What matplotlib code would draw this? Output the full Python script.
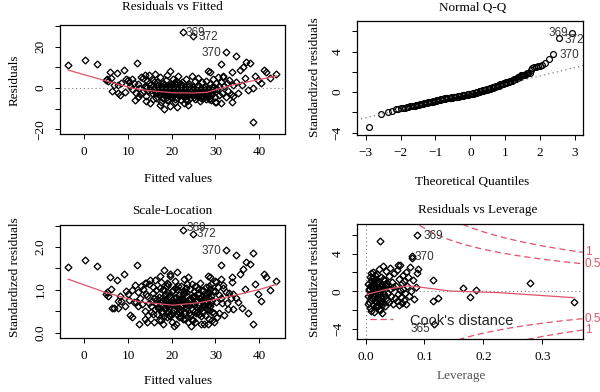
import numpy as np
import matplotlib
matplotlib.use('Agg')
import matplotlib.pyplot as plt
from statistics import NormalDist

plt.rcParams['font.family'] = ['Liberation Serif', 'DejaVu Serif']

# fitted values and raw residuals of the model
fitted = [-3.7, 0.15, 3.0, 5.0, 5.2, 5.4, 5.9, 6.0, 6.4, 6.8,
          7.4, 7.6, 7.8, 8.2, 8.5, 9.1, 9.3, 9.6, 10.1, 10.2,
          10.5, 10.8, 11.0, 11.3, 11.6, 11.8, 12.0, 12.2, 12.3, 12.5,
          12.7, 12.9, 13.9,
          22.6, 24.8, 32.5, 34.6, 31.2, 37.0, 37.9, 35.6, 36.2, 41.1,
          41.5, 43.8, 42.4, 39.8, 38.6, 38.6, 33.7, 30.2, 28.7, 31.8,
          33.7, 34.8, 37.5, 36.1, 35.2, 36.8, 39.0, 40.5, 34.0, 31.2,
          13.2, 13.5, 13.8, 14.1, 14.3, 14.6, 14.9, 14.2, 13.9, 14.7,
          15.1, 15.3, 15.5, 15.8, 16.0, 16.2, 16.4, 16.6, 16.9, 15.6, 16.7, 15.9,
          17.1, 17.3, 17.4, 17.6, 17.8, 17.9, 18.1, 18.2, 18.3, 18.5,
          18.6, 18.8, 18.9, 19.0, 17.5, 18.4, 19.1, 17.7,
          19.2, 19.3, 19.5, 19.6, 19.7, 19.9, 20.0, 20.2, 20.3, 20.4,
          20.6, 20.7, 20.9, 21.0, 19.4, 20.1, 20.8, 21.0,
          21.2, 21.3, 21.5, 21.6, 21.8, 22.0, 22.1, 22.3, 22.4, 22.6,
          22.8, 22.9, 21.4, 22.2, 22.7,
          23.1, 23.2, 23.4, 23.5, 23.7, 23.9, 24.0, 24.2, 24.4, 24.6, 24.7, 24.9, 23.8,
          25.1, 25.3, 25.4, 25.6, 25.8, 26.0, 26.1, 26.3, 26.5, 26.6, 26.8, 27.0, 25.9, 26.9,
          27.2, 27.3, 27.5, 27.6, 27.8, 27.9, 28.0, 28.2, 28.3, 28.5,
          28.6, 28.8, 28.9, 29.0, 27.4, 28.4, 29.1,
          29.3, 29.5, 29.7, 29.9, 30.1, 30.3, 30.5, 30.7, 30.9, 30.0,
          31.2, 31.5, 31.8, 32.0, 32.3, 32.6, 32.9, 33.2, 33.6, 33.9,
          17.2, 17.9, 18.7, 19.3, 19.8, 20.5, 21.1, 21.7, 22.5, 23.3,
          23.6, 24.1, 24.8, 25.2, 25.7, 26.2, 26.7, 27.1, 27.7, 28.1,
          28.7, 18.0, 19.0, 20.0, 21.9, 22.9, 24.5, 26.4, 27.9, 28.6,
          14.4, 15.2, 15.7, 16.3, 16.8, 17.0, 17.6, 18.2, 18.6, 18.9,
          19.2, 19.6, 19.9, 20.3, 20.6, 21.0, 21.3, 21.6, 21.9, 22.2,
          22.5, 22.8, 23.0, 23.3, 23.6, 23.9, 24.2, 24.5, 24.8, 25.0,
          25.3, 25.6, 25.9, 26.2, 26.5, 26.8, 27.1, 27.4, 27.7, 28.0,
          28.3, 28.6, 28.9, 29.2, 29.6, 16.1, 18.0, 20.1, 24.3, 26.0]
resid = [11.1, 13.5, 11.5, 3.9, 4.3, 3.5, 7.9, 5.0, -1.5, 1.5,
         7.1, -2.5, 1.5, -3.4, 2.6, 8.7, -1.8, 4.4, 3.9, 2.8,
         0.8, 4.6, -0.6, 2.4, -5.8, -2.4, 11.9, 1.8, -4.2, 0.2,
         -3.0, 5.5, 6.3,
         27.3, 25.2, 17.6, 15.5, 11.6, 12.7, 12.2, 8.7, 10.3, 8.7,
         7.9, 6.8, 4.7, 3.9, -0.2, -16.3, -6.6, -6.6, 7.9, 5.2,
         7.9, 3.1, -1.0, 1.5, -2.4, 4.8, 6.0, 2.5, -3.8, -7.4,
         -2.1, 4.8, 1.2, -6.3, 3.5, -0.8, 6.1, -3.9, 0.5, 2.2,
         -7.2, 1.8, -2.5, 4.1, -0.3, 7.0, -4.6, 2.9, -1.7, -5.4, 0.9, 3.0,
         -3.3, 5.2, -8.1, 0.4, -1.2, 2.6, -5.0, -10.1, 1.5, -2.8,
         3.9, -0.6, -4.2, 6.4, -6.6, -3.7, -1.9, 1.0,
         -6.0, 0.8, 8.3, -2.4, -8.9, 2.1, -4.4, -1.0, 4.6, -3.1,
         0.1, -6.8, 1.9, -2.0, -1.5, -0.3, -5.2, 3.3,
         -9.4, -0.9, 5.7, -3.6, -1.4, 1.3, -5.7, -2.6, 3.0, -0.5,
         -7.3, -2.2, 2.4, 0.6, -4.0,
         -1.1, 4.2, -3.4, -6.2, 0.3, -2.7, 2.0, -4.8, -1.6, 6.0, -0.4, -3.0, -8.0,
         -2.3, 3.4, -5.5, -1.0, 1.1, -3.8, 4.9, -2.0, -6.4, 0.2, -1.5, 2.7, -4.1, -3.2,
         -4.6, -1.8, 0.8, -3.0, -5.3, 3.6, -2.4, -0.2, 8.1, -4.0,
         -1.3, 1.8, -3.4, -6.0, -2.9, -2.0, 0.4,
         -2.8, 4.5, -1.0, -6.9, 2.4, -0.6, 5.3, -3.6, 1.0, -4.5,
         3.0, -2.2, 5.9, 0.8, -4.2, 2.2, -1.4, 4.0, -3.0, 1.4,
         -2.0, -4.6, -2.2, -3.4, 0.9, -1.9, -4.9, -2.9, -3.8, -5.1,
         -2.0, -0.8, -3.5, -4.4, -2.7, -0.9, -4.7, -1.1, -2.2, -3.9,
         -4.9, -0.2, -5.6, -2.7, -1.0, -4.5, -2.1, -3.1, -1.6, -5.5,
         0.3, -1.1, 0.9, -2.3, 1.6, -0.4, -2.9, 0.7, -1.6, -2.5,
         1.2, -0.7, -3.1, -1.3, 2.3, 0.2, -2.2, -0.6, -1.8, 1.8,
         -2.8, -1.0, 0.5, -2.4, -1.5, 1.0, -3.0, -0.9, 0.4, -2.0,
         -0.3, -2.6, -1.2, 0.9, -2.9, -0.7, -1.9, 0.2, -2.6, -1.4,
         -3.2, -0.5, -2.3, -1.1, 0.3, -1.4, -1.8, -2.1, -0.1, -1.6]
resid_se = 4.7

# lowess curves as drawn
smooth_fit_x = [-3.7, 5.1, 11.2, 15.0, 20.3, 25.0, 28.0, 31.0, 34.0, 39.4, 44.0]
smooth_fit_y = [8.7, 3.4, -0.2, -1.3, -2.3, -2.4, -2.1, -0.3, 1.5, 3.9, 5.8]
smooth_sl_x = [-3.7, 5.1, 12.7, 20.3, 26.4, 34.0, 40.1, 44.0]
smooth_sl_y = [1.25, 0.93, 0.72, 0.64, 0.70, 0.86, 1.01, 1.13]

# leverage panel
lev = [0.004, 0.005, 0.006, 0.006, 0.007, 0.008, 0.008, 0.009, 0.010, 0.010,
       0.011, 0.012, 0.012, 0.013, 0.014, 0.014, 0.015, 0.016, 0.016, 0.017,
       0.018, 0.018, 0.019, 0.020, 0.020, 0.021, 0.022, 0.022, 0.023, 0.024,
       0.024, 0.025, 0.026, 0.026, 0.027, 0.028, 0.029, 0.030, 0.030, 0.031,
       0.032, 0.033, 0.034, 0.035, 0.036, 0.037, 0.038, 0.039, 0.040, 0.041,
       0.042, 0.043, 0.045, 0.046, 0.047, 0.048, 0.050,
       0.052, 0.053, 0.054, 0.055, 0.056, 0.057, 0.058, 0.059, 0.060, 0.061,
       0.062, 0.063, 0.064, 0.065, 0.066, 0.067, 0.068, 0.069, 0.070, 0.072,
       0.073, 0.075, 0.077, 0.080, 0.082, 0.085, 0.088,
       0.005, 0.007, 0.009, 0.011, 0.013, 0.015, 0.017, 0.019, 0.021, 0.023,
       0.025, 0.027, 0.029, 0.031, 0.033, 0.012, 0.016, 0.020, 0.024, 0.028,
       0.006, 0.010, 0.014, 0.018, 0.022, 0.026, 0.030, 0.034, 0.009, 0.019,
       0.0866, 0.024, 0.078, 0.078, 0.089, 0.114, 0.115, 0.123, 0.166, 0.178,
       0.188, 0.279, 0.353, 0.116, 0.0555]
lev_resid = [-0.5, 0.8, -1.2, 0.2, 1.5, -0.3, -1.8, 0.5, -0.9, 1.1,
             -0.1, -1.5, 0.7, 2.0, -0.6, 0.3, -2.2, 1.3, -1.0, 0.0,
             0.9, -0.4, -1.7, 1.8, 0.4, -0.8, 2.4, -0.2, 1.0, -1.3,
             0.6, -2.0, 0.1, 1.5, -0.7, 0.8, -1.1, 2.7, 0.3, -0.3,
             1.2, -1.6, 0.5, 2.2, -0.9, 0.9, -0.2, 1.6, -1.2, 0.2,
             2.5, -0.5, 1.0, -1.4, 0.4, 1.9, -0.7,
             0.6, -1.0, 2.3, -0.3, 1.3, -1.5, 0.1, 2.8, -0.6, 0.9,
             -1.3, 1.7, 0.2, -0.9, 1.1, -0.2, 2.0, -1.4, 0.5, 1.5,
             -0.5, 2.6, 0.0, 1.2, -0.8, 0.4, 1.9,
             -1.4, 0.6, -2.1, 1.4, -0.4, 0.5, -1.6, 1.0, -0.3, -1.9,
             0.2, -1.0, 1.3, -0.6, 0.7, -0.8, 1.7, -1.5, -0.1, -2.3,
             0.1, -0.6, 1.1, -1.2, 0.3, -0.5, -1.4, 0.8, 1.9, -0.2,
             6.0, 5.4, 3.8, 3.5, 2.4, 1.2, -1.05, -0.76, 0.37, -0.59,
             0.09, 0.9, -1.16, -3.47, 2.75]
smooth_lev_x = [0.002, 0.036, 0.07, 0.087, 0.143, 0.228, 0.353]
smooth_lev_y = [-0.34, 0.2, 0.55, 0.48, 0.02, -0.16, -0.69]
n_coef = 10
cook_levels = [0.5, 1]

red = '#DF536B'
lab_col = '#333333'

fitted = np.array(fitted)
resid = np.array(resid)
std_resid = resid / resid_se
n = len(std_resid)
theo = np.array([NormalDist().inv_cdf((i - 0.5) / n) for i in range(1, n + 1)])
sorted_std = np.sort(std_resid)

fig = plt.figure(figsize=(6, 3.92), dpi=100)
ax1 = fig.add_axes([0.1, 0.658, 0.375, 0.278])
ax2 = fig.add_axes([0.595, 0.656, 0.3767, 0.291])
ax3 = fig.add_axes([0.1, 0.1385, 0.375, 0.2867])
ax4 = fig.add_axes([0.5955, 0.1344, 0.3757, 0.2934])


def style(ax, xt, xtl, yt, ytl, xlim, ylim):
    ax.set_xlim(xlim)
    ax.set_ylim(ylim)
    ax.set_xticks(xt)
    ax.set_xticklabels(xtl)
    ax.set_yticks(yt)
    ax.set_yticklabels(ytl, rotation=90, va='center')
    ax.tick_params(direction='out', length=3.6, width=0.7, labelsize=9.5)
    ax.tick_params(axis='x', pad=5)
    ax.tick_params(axis='y', pad=6)
    for s in ax.spines.values():
        s.set_linewidth(0.9)


mk = dict(ls='none', marker='D', ms=3.5, mfc='none', mec='black', mew=0.95)

# residuals vs fitted
ax1.plot(fitted, resid, **mk)
ax1.axhline(0, color='gray', lw=0.8, dashes=(1, 2.5))
ax1.plot(smooth_fit_x, smooth_fit_y, color=red, lw=0.9)
ax1.text(25.3, 26.9, '369', fontsize=8.5, family='Liberation Sans', color=lab_col, ha='center', va='center')
ax1.text(28.3, 24.5, '372', fontsize=8.5, family='Liberation Sans', color=lab_col, ha='center', va='center')
ax1.text(29.1, 16.8, '370', fontsize=8.5, family='Liberation Sans', color=lab_col, ha='center', va='center')
style(ax1, [0, 10, 20, 30, 40], ['0', '10', '20', '30', '40'],
      [-20, -10, 0, 10, 20, 30], ['\u221220', '', '0', '', '20', ''], (-5.56, 45.9), (-22.3, 30.5))

# normal Q-Q
ax2.plot(theo, sorted_std, ls='none', marker='o', ms=4.2, mfc='none', mec='black', mew=0.9)
q1, q3 = np.percentile(std_resid, [25, 75])
z1, z3 = NormalDist().inv_cdf(0.25), NormalDist().inv_cdf(0.75)
slope = (q3 - q1) / (z3 - z1)
icpt = q1 - slope * z1
qx = np.array([-3.5, 3.5])
ax2.plot(qx, icpt + slope * qx, color='gray', lw=0.9, dashes=(1, 2.5))
ax2.text(2.52, 5.85, '369', fontsize=8.5, family='Liberation Sans', color=lab_col, ha='center', va='center')
ax2.text(2.97, 5.19, '372', fontsize=8.5, family='Liberation Sans', color=lab_col, ha='center', va='center', clip_on=False)
ax2.text(2.83, 3.7, '370', fontsize=8.5, family='Liberation Sans', color=lab_col, ha='center', va='center')
style(ax2, [-3, -2, -1, 0, 1, 2, 3], ['\u22123', '\u22122', '\u22121', '0', '1', '2', '3'],
      [-4, -2, 0, 2, 4, 6], ['\u22124', '', '0', '', '4', ''], (-3.25, 3.23), (-4.23, 7.04))

# scale-location
ax3.plot(fitted, np.sqrt(np.abs(std_resid)), **mk)
ax3.plot(smooth_sl_x, smooth_sl_y, color=red, lw=0.9)
ax3.text(25.7, 2.45, '369', fontsize=8.5, family='Liberation Sans', color=lab_col, ha='center', va='center')
ax3.text(28.0, 2.30, '372', fontsize=8.5, family='Liberation Sans', color=lab_col, ha='center', va='center')
ax3.text(29.1, 1.92, '370', fontsize=8.5, family='Liberation Sans', color=lab_col, ha='center', va='center')
style(ax3, [0, 10, 20, 30, 40], ['0', '10', '20', '30', '40'],
      [0, 0.5, 1.0, 1.5, 2.0, 2.5], ['0.0', '', '1.0', '', '2.0', ''], (-5.56, 45.9), (-0.12, 2.51))

# residuals vs leverage
xlim4 = (-0.014, 0.3685)
ax4.axhline(0, color='gray', lw=0.8, dashes=(1, 2.5))
ax4.axvline(0, color='gray', lw=0.8, dashes=(1, 2.5))
ax4.plot(lev, lev_resid, **mk)
ax4.plot(smooth_lev_x, smooth_lev_y, color=red, lw=0.9)
hh = np.linspace(0.0005, xlim4[1], 101)
for c in cook_levels:
    rr = np.sqrt(c * n_coef * (1 - hh) / hh)
    ax4.plot(hh, rr, color=red, lw=0.9, dashes=(5, 3))
    ax4.plot(hh, -rr, color=red, lw=0.9, dashes=(5, 3))
    lbl = '1' if c == 1 else str(c)
    for sgn in (1, -1):
        ax4.text(1.01, sgn * rr[-1], lbl, transform=ax4.get_yaxis_transform(), fontsize=8.5,
                 family='Liberation Sans', color=red, ha='left', va='center', clip_on=False)
ax4.plot([0.007, 0.047], [-3.0, -3.0], color=red, lw=0.9, dashes=(5, 3))
ax4.text(0.075, -3.18, "Cook's distance", fontsize=10.5, family='Liberation Sans', color='#222222',
         ha='left', va='center')
ax4.text(0.115, 5.9, '369', fontsize=8.5, family='Liberation Sans', color=lab_col, ha='center', va='center')
ax4.text(0.10, 3.65, '370', fontsize=8.5, family='Liberation Sans', color=lab_col, ha='center', va='center')
ax4.text(0.093, -4.07, '365', fontsize=8.5, family='Liberation Sans', color=lab_col, ha='center', va='center')
style(ax4, [0, 0.1, 0.2, 0.3], ['0.0', '0.1', '0.2', '0.3'],
      [-4, -2, 0, 2, 4, 6], ['\u22124', '', '0', '', '4', ''], xlim4, (-5.13, 7.13))

# titles and axis labels
fs = 9.5
fig.text(0.2875, 0.981, 'Residuals vs Fitted', fontsize=fs, ha='center', va='center')
fig.text(0.7875, 0.980, 'Normal Q-Q', fontsize=fs, ha='center', va='center')
fig.text(0.2875, 0.462, 'Scale-Location', fontsize=fs, ha='center', va='center')
fig.text(0.7958, 0.464, 'Residuals vs Leverage', fontsize=fs, ha='center', va='center')
fig.text(0.2963, 0.544, 'Fitted values', fontsize=fs, ha='center', va='center')
fig.text(0.7875, 0.536, 'Theoretical Quantiles', fontsize=fs, ha='center', va='center')
fig.text(0.2963, 0.027, 'Fitted values', fontsize=fs, ha='center', va='center')
fig.text(0.7695, 0.041, 'Leverage', fontsize=fs, ha='center', va='center', color='#555555')
fig.text(0.025, 0.796, 'Residuals', fontsize=fs, ha='center', va='center', rotation=90)
fig.text(0.525, 0.804, 'Standardized residuals', fontsize=fs, ha='center', va='center', rotation=90)
fig.text(0.025, 0.292, 'Standardized residuals', fontsize=fs, ha='center', va='center', rotation=90)
fig.text(0.525, 0.294, 'Standardized residuals', fontsize=fs, ha='center', va='center', rotation=90)

fig.savefig('out.png', dpi=100)
